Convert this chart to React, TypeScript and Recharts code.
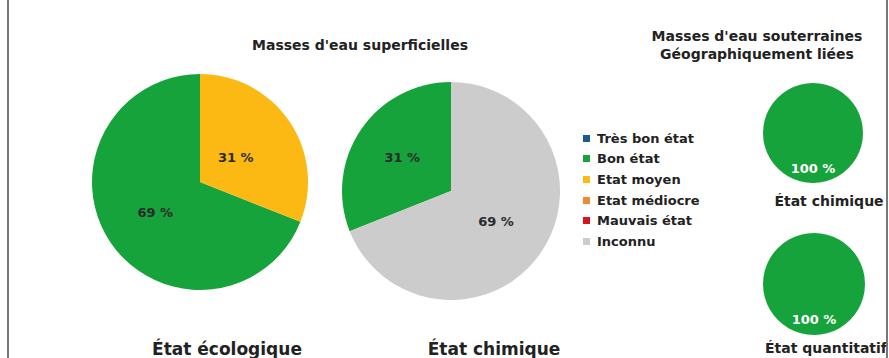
import React from 'react';
import { PieChart, Pie, Cell } from 'recharts';

const statusNames = ['Très bon état', 'Bon état', 'Etat moyen', 'Etat médiocre', 'Mauvais état', 'Inconnu'];
const statusColors = ['#1d5a8c', '#17a33b', '#fdb913', '#ef8a2f', '#d7141f', '#cccccc'];

// shares in %, in legend order
const ecoValues = [0, 69, 31, 0, 0, 0];
const chimSupValues = [0, 31, 0, 0, 0, 69];
const chimSoutValues = [0, 100, 0, 0, 0, 0];
const quantSoutValues = [0, 100, 0, 0, 0, 0];

const W = 889;
const H = 358;
const FONT = '"DejaVu Sans", sans-serif';

const toRows = (values: number[]) =>
  statusNames
    .map((name, i) => ({ name, value: values[i], color: statusColors[i] }))
    .filter((d) => d.value > 0);

// label sits on the slice's mid angle, at a fraction of the radius
const makeLabel = (factor: number, minorFactor: number, color: string) => (props: any) => {
  const { cx, cy, midAngle, outerRadius, value } = props;
  const k = value < 50 ? minorFactor : factor;
  const rad = (Math.PI / 180) * midAngle;
  const x = cx + outerRadius * k * Math.cos(rad);
  const y = cy - outerRadius * k * Math.sin(rad);
  return (
    <text
      x={x}
      y={y}
      textAnchor="middle"
      dominantBaseline="central"
      fill={color}
      fontSize={13}
      fontWeight="bold"
      fontFamily={FONT}
    >
      {`${value} %`}
    </text>
  );
};

const pies = [
  { key: 'eco', rows: toRows(ecoValues), cx: 200, cy: 182, r: 108, f: 0.5, fm: 0.4, lc: '#2a2a2a' },
  { key: 'chimSup', rows: toRows(chimSupValues), cx: 451, cy: 191, r: 109, f: 0.5, fm: 0.54, lc: '#2a2a2a' },
  { key: 'chimSout', rows: toRows(chimSoutValues), cx: 813, cy: 133, r: 50, f: 0.7, fm: 0.7, lc: '#ffffff' },
  { key: 'quantSout', rows: toRows(quantSoutValues), cx: 814, cy: 284, r: 51, f: 0.7, fm: 0.7, lc: '#ffffff' },
];

const textStyle = (x: number, y: number, size: number): React.CSSProperties => ({
  position: 'absolute',
  left: x,
  top: y,
  transform: 'translate(-50%, -50%)',
  fontFamily: FONT,
  fontWeight: 'bold',
  fontSize: size,
  color: '#222',
  whiteSpace: 'nowrap',
  lineHeight: 1.25,
  textAlign: 'center',
});

export default function App() {
  return (
    <div style={{ position: 'absolute', left: 0, top: 0, width: W, height: H, background: '#fff', overflow: 'hidden' }}>
      <PieChart width={W} height={H} margin={{ top: 0, right: 0, bottom: 0, left: 0 }}>
        {pies.map((p) => (
          <Pie
            key={p.key}
            data={p.rows}
            dataKey="value"
            nameKey="name"
            cx={p.cx}
            cy={p.cy}
            outerRadius={p.r}
            startAngle={90}
            endAngle={450}
            stroke="none"
            labelLine={false}
            label={makeLabel(p.f, p.fm, p.lc)}
            isAnimationActive={false}
          >
            {p.rows.map((d) => (
              <Cell key={d.name} fill={d.color} />
            ))}
          </Pie>
        ))}
      </PieChart>
      <div style={{ position: 'absolute', left: 583, top: 128, fontFamily: FONT, fontSize: 13, fontWeight: 'bold', color: '#222' }}>
        {statusNames.map((name, i) => (
          <div key={name} style={{ display: 'flex', alignItems: 'center', height: 20.6, whiteSpace: 'nowrap' }}>
            <div style={{ width: 7, height: 7, flexShrink: 0, background: statusColors[i], marginRight: 7 }} />
            <div>{name}</div>
          </div>
        ))}
      </div>
      <div style={textStyle(360, 46, 14)}>Masses d'eau superficielles</div>
      <div style={textStyle(757, 45, 14)}>
        Masses d'eau souterraines
        <br />
        Géographiquement liées
      </div>
      <div style={textStyle(227, 350, 17)}>État écologique</div>
      <div style={textStyle(494, 350, 17)}>État chimique</div>
      <div style={textStyle(829, 202, 14)}>État chimique</div>
      <div style={textStyle(826, 349, 14)}>État quantitatif</div>
      <div style={{ position: 'absolute', left: 7, top: 0, width: 2, height: H, background: '#777' }} />
      <div style={{ position: 'absolute', left: 886, top: 0, width: 2, height: H, background: '#777' }} />
    </div>
  );
}
